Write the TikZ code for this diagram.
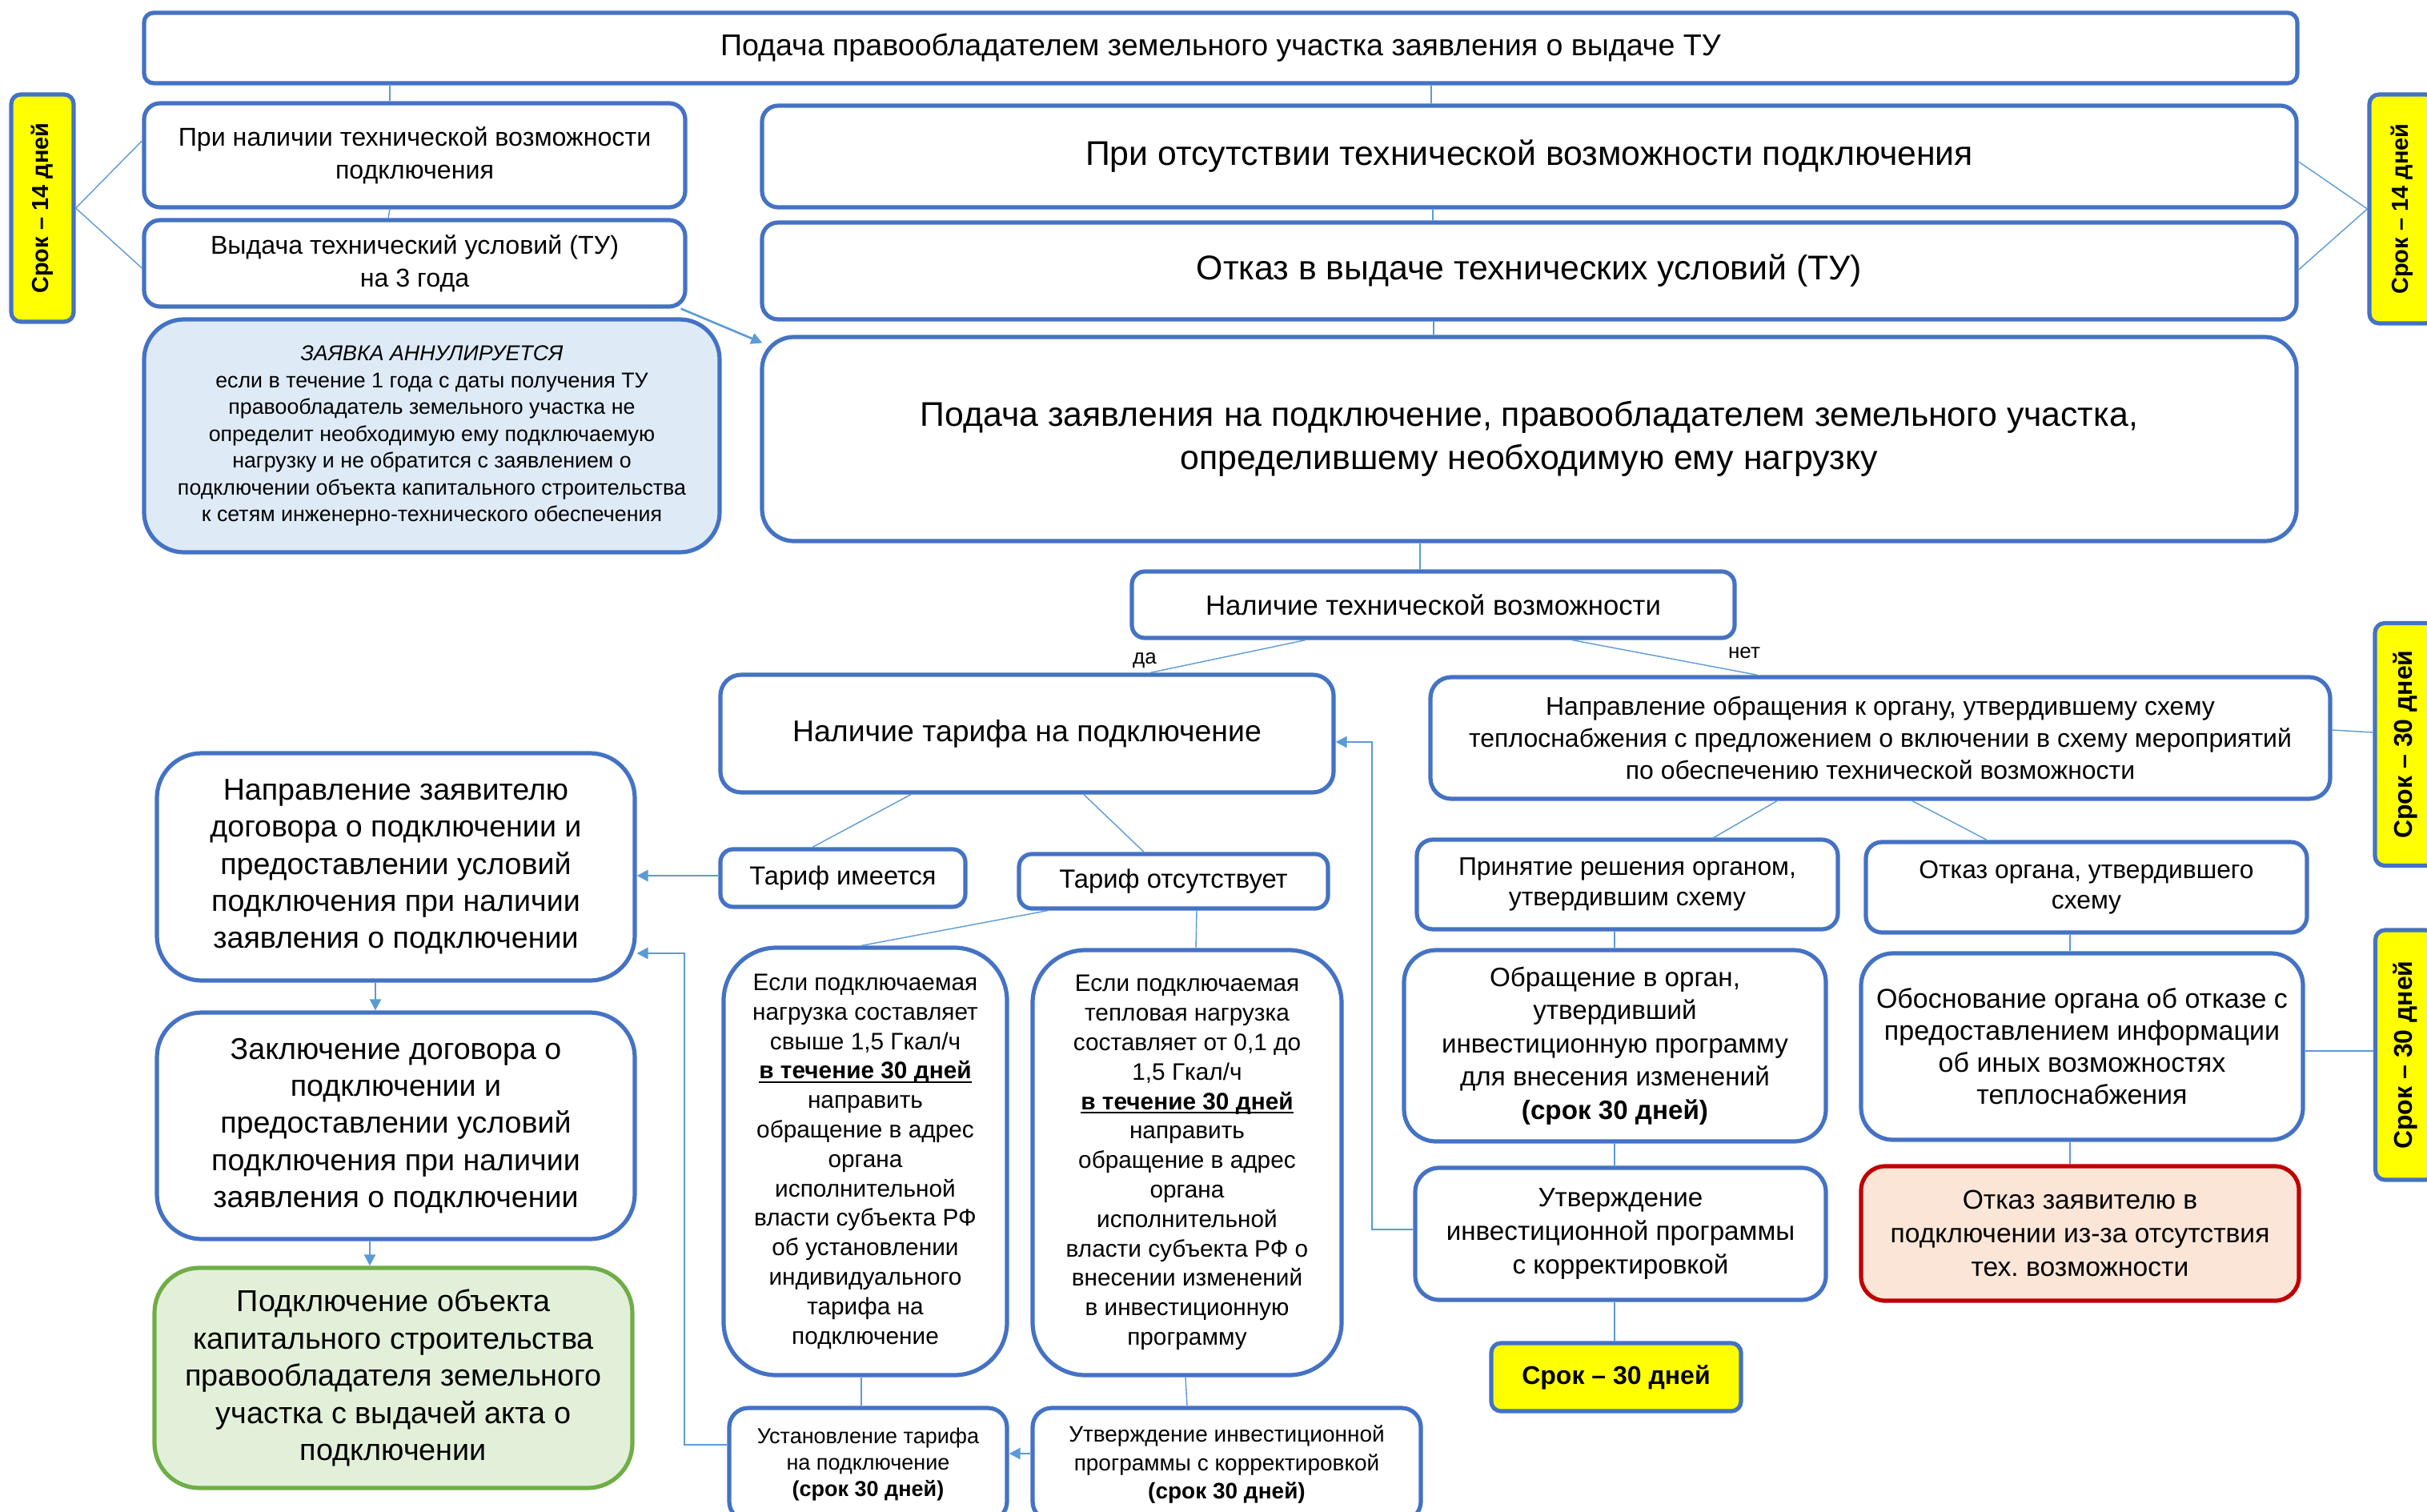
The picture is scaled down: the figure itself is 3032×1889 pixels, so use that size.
\documentclass[tikz,border=0pt]{standalone}
\usepackage{fontspec}
\setmainfont{Liberation Sans}
\usetikzlibrary{arrows.meta,calc}
\frenchspacing
\definecolor{boxblue}{HTML}{4472C4}
\definecolor{lineblue}{HTML}{5B9BD5}
\definecolor{annfill}{HTML}{DEEBF7}
\definecolor{grfill}{HTML}{E2F0D9}
\definecolor{grline}{HTML}{70AD47}
\definecolor{rdfill}{HTML}{FBE5D6}
\definecolor{rdline}{HTML}{C00000}
\definecolor{ylw}{HTML}{FFFF00}
\newcommand\fsz[2]{\fontsize{#1}{#2}\selectfont}
\newcommand\thul[1]{\setbox0\hbox{#1}\rlap{\rule[-2.6pt]{\wd0}{1.1pt}}\box0}
% name, x1, y1, x2, y2, style, text
\newcommand\bx[7]{\node[#6, minimum width={(#4-#2)*0.5pt}, minimum height={(#5-#3)*0.5pt}] (#1) at ({(#2+#4)/2},{(#3+#5)/2}) {#7};}
\begin{document}
\begin{tikzpicture}[x=0.5pt,y=-0.5pt,
  box/.style={draw=boxblue, line width=2.6pt, fill=white, rounded corners=#1, inner sep=0pt, align=center},
  box/.default=10pt,
  conn/.style={draw=lineblue, line width=0.7pt},
  arr/.style={draw=lineblue, line width=1.3pt, -{Triangle[length=7pt,width=7pt]}},
  ylwbox/.style={draw=boxblue, line width=2.6pt, fill=ylw, rounded corners=6pt, inner sep=0pt, align=center},
  lbl/.style={inner sep=0pt, font=\fsz{13pt}{15pt}},
]
\useasboundingbox (0,0) rectangle (3032,1889);
\clip (0,0) rectangle (3032,1889);

% ---- top section
\bx{top}{180}{16}{2870}{104}{box=6pt, font=\fsz{18.8pt}{22pt}}{Подача правообладателем земельного участка заявления о выдаче ТУ}
\bx{b1}{180}{129}{856}{259}{box=10pt, font=\fsz{16.1pt}{20.3pt}}{При наличии технической возможности\\подключения}
\bx{b2}{180}{275}{856}{383}{box=10pt, font=\fsz{16.1pt}{20.3pt}}{Выдача технический условий (ТУ)\\на 3 года}
\bx{annul}{180}{399}{899}{690}{box=25pt, fill=annfill, font=\fsz{13.4pt}{16.75pt}}{\textit{ЗАЯВКА АННУЛИРУЕТСЯ}\\если в течение 1 года с даты получения ТУ\\правообладатель земельного участка не\\определит необходимую ему подключаемую\\нагрузку и не обратится с заявлением о\\подключении объекта капитального строительства\\к сетям инженерно-технического обеспечения}
\bx{nopos}{952}{132}{2869}{259}{box=10pt, font=\fsz{21.4pt}{26pt}}{При отсутствии технической возможности подключения}
\bx{refuse}{952}{278}{2869}{399}{box=10pt, font=\fsz{21.4pt}{26pt}}{Отказ в выдаче технических условий (ТУ)}
\bx{apply}{952}{421}{2869}{676}{box=20pt, font=\fsz{21.4pt}{27pt}}{Подача заявления на подключение, правообладателем земельного участка,\\определившему необходимую ему нагрузку}

\node[ylwbox, rotate=90, minimum width={(402-118)*0.5pt}, minimum height={(92-14)*0.5pt}, font=\bfseries\fsz{14.5pt}{17pt}] (y14L) at (53,260) {Срок – 14 дней};
\node[ylwbox, rotate=90, minimum width={(404-118)*0.5pt}, minimum height={(3042-2960)*0.5pt}, font=\bfseries\fsz{14.5pt}{17pt}] (y14R) at (3001,261) {Срок – 14 дней};

% ---- middle
\bx{tech}{1414}{714}{2167}{797}{box=8pt, font=\fsz{17.35pt}{20pt}}{Наличие технической возможности}
\bx{tariff}{900}{843}{1666}{990}{box=13pt, font=\fsz{18.7pt}{23pt}}{Наличие тарифа на подключение}
\bx{thave}{900}{1061}{1206}{1133}{box=8pt, font=\fsz{16.3pt}{20pt}}{Тариф имеется}
\bx{tnone}{1273}{1067}{1659}{1135}{box=8pt, font=\fsz{16.4pt}{20pt}}{Тариф отсутствует}
\node[lbl] (da) at (1430,825) {да};
\node[lbl] (net) at (2179,816) {нет};

% ---- left column
\bx{napr}{196}{941}{793}{1225}{box=28pt, font=\fsz{18.8pt}{23.2pt}}{Направление заявителю\\договора о подключении и\\предоставлении условий\\подключения при наличии\\заявления о подключении}
\bx{zakl}{196}{1265}{793}{1548}{box=28pt, font=\fsz{18.8pt}{23.2pt}}{Заключение договора о\\подключении и\\предоставлении условий\\подключения при наличии\\заявления о подключении}
\bx{conn}{193}{1584}{790}{1859}{box=28pt, draw=grline, fill=grfill, font=\fsz{18.9pt}{23.2pt}}{Подключение объекта\\капитального строительства\\правообладателя земельного\\участка с выдачей акта о\\подключении}

% ---- tariff-less column
\bx{esli1}{904}{1184}{1258}{1718}{box=33pt, font=\fsz{14.9pt}{18.4pt}}{Если подключаемая\\нагрузка составляет\\свыше 1,5 Гкал/ч\\\thul{\textbf{в течение 30 дней}}\\направить\\обращение в адрес\\органа\\исполнительной\\власти субъекта РФ\\об установлении\\индивидуального\\тарифа на\\подключение}
\bx{esli2}{1290}{1187}{1676}{1718}{box=33pt, font=\fsz{14.9pt}{18.4pt}}{Если подключаемая\\тепловая нагрузка\\составляет от 0,1 до\\1,5 Гкал/ч\\\thul{\textbf{в течение 30 дней}}\\направить\\обращение в адрес\\органа\\исполнительной\\власти субъекта РФ о\\внесении изменений\\в инвестиционную\\программу}
\bx{ustan}{911}{1759}{1258}{1900}{box=12pt, font=\fsz{13.5pt}{16.5pt}}{Установление тарифа\\на подключение\\\textbf{(срок 30 дней)}}
\bx{utv30}{1290}{1759}{1775}{1900}{box=12pt, font=\fsz{14pt}{17.7pt}}{Утверждение инвестиционной\\программы с корректировкой\\\textbf{(срок 30 дней)}}

% ---- right column
\bx{dirorg}{1787}{846}{2911}{998}{box=13pt, font=\fsz{16pt}{19.8pt}}{Направление обращения к органу, утвердившему схему\\теплоснабжения с предложением о включении в схему мероприятий\\по обеспечению технической возможности}
\bx{prin}{1770}{1049}{2296}{1161}{box=10pt, font=\fsz{15.9pt}{19.3pt}}{Принятие решения органом,\\утвердившим схему}
\bx{otkorg}{2331}{1052}{2882}{1165}{box=10pt, font=\fsz{15.9pt}{19.3pt}}{Отказ органа, утвердившего\\схему}
\bx{obr}{1754}{1187}{2281}{1426}{box=20pt, font=\fsz{16.6pt}{20.8pt}}{Обращение в орган,\\утвердивший\\инвестиционную программу\\для внесения изменений\\\textbf{(срок 30 дней)}}
\bx{obosn}{2325}{1191}{2877}{1424}{box=20pt, font=\fsz{17pt}{20pt}}{Обоснование органа об отказе с\\предоставлением информации\\об иных возможностях\\теплоснабжения}
\bx{utvk}{1768}{1459}{2281}{1624}{box=15pt, font=\fsz{16.6pt}{20.8pt}}{Утверждение\\инвестиционной программы\\с корректировкой}
\bx{otkz}{2325}{1457}{2872}{1625}{box=15pt, draw=rdline, fill=rdfill, font=\fsz{16.8pt}{20.8pt}}{Отказ заявителю в\\подключении из-за отсутствия\\тех. возможности}
\bx{y30b}{1863}{1678}{2175}{1763}{ylwbox, font=\bfseries\fsz{16pt}{19pt}}{Срок – 30 дней}
\node[ylwbox, rotate=90, minimum width={(1082-779)*0.5pt}, minimum height={(3043-2967)*0.5pt}, font=\bfseries\fsz{16pt}{19pt}] (y30R1) at (3005,930) {Срок – 30 дней};
\node[ylwbox, rotate=90, minimum width={(1474-1162)*0.5pt}, minimum height={(3043-2968)*0.5pt}, font=\bfseries\fsz{16pt}{19pt}] (y30R2) at (3005,1318) {Срок – 30 дней};

% ---- connectors (thin)
\draw[conn] (top.south -| 487,0) -- (b1.north -| 487,0);
\draw[conn] (b1.south -| 487,0) -- (b2.north -| 485,0);
\draw[conn] (y14L.south) -- (b1.west |- 0,176);
\draw[conn] (y14L.south) -- (b2.west |- 0,335);
\draw[conn] (top.south -| 1788,0) -- (nopos.north -| 1788,0);
\draw[conn] (nopos.south -| 1790,0) -- (refuse.north -| 1790,0);
\draw[conn] (refuse.south -| 1791,0) -- (apply.north -| 1791,0);
\draw[conn] (apply.south -| 1774,0) -- (tech.north -| 1774,0);
\draw[conn] (y14R.north) -- (nopos.east |- 0,202);
\draw[conn] (y14R.north) -- (refuse.east |- 0,337);
\draw[conn] (tech.south -| 1631,0) -- (tariff.north -| 1437,0);
\draw[conn] (tech.south -| 1964,0) -- (dirorg.north -| 2196,0);
\draw[conn] (tariff.south -| 1138,0) -- (thave.north -| 1015,0);
\draw[conn] (tariff.south -| 1354,0) -- (tnone.north -| 1429,0);
\draw[conn] (tnone.south -| 1309,0) -- (esli1.north -| 1076,0);
\draw[conn] (tnone.south -| 1495,0) -- (esli2.north -| 1494,0);
\draw[conn] (esli1.south -| 1076,0) -- (ustan.north -| 1076,0);
\draw[conn] (esli2.south -| 1481,0) -- (utv30.north -| 1483,0);
\draw[conn] (dirorg.south -| 2220,0) -- (prin.north -| 2141,0);
\draw[conn] (dirorg.south -| 2389,0) -- (otkorg.north -| 2482,0);
\draw[conn] (dirorg.east |- 0,912) -- (y30R1.north |- 0,915);
\draw[conn] (prin.south -| 2017,0) -- (obr.north -| 2017,0);
\draw[conn] (obr.south -| 2017,0) -- (utvk.north -| 2017,0);
\draw[conn] (utvk.south -| 2017,0) -- (y30b.north -| 2017,0);
\draw[conn] (otkorg.south -| 2586,0) -- (obosn.north -| 2586,0);
\draw[conn] (obosn.south -| 2586,0) -- (otkz.north -| 2586,0);
\draw[conn] (obosn.east |- 0,1313) -- (y30R2.north |- 0,1313);

% ---- arrows
\draw[arr] ($(b2.south east)+(-8,0)$) -- ($(apply.north west)+(3,10)$);
\draw[arr] (thave.west |- 0,1094) -- (napr.east |- 0,1094);
\draw[arr] (ustan.west |- 0,1805) -- (855,1805) -- (855,1191) -- (napr.east |- 0,1191);
\draw[arr] (napr.south -| 469,0) -- (zakl.north -| 469,0);
\draw[arr] (zakl.south -| 462,0) -- (conn.north -| 462,0);
\draw[arr] (utv30.west |- 0,1816) -- (ustan.east |- 0,1816);
\draw[arr] (utvk.west |- 0,1536) -- (1714,1536) -- (1714,927) -- (tariff.east |- 0,927);
\end{tikzpicture}
\end{document}
